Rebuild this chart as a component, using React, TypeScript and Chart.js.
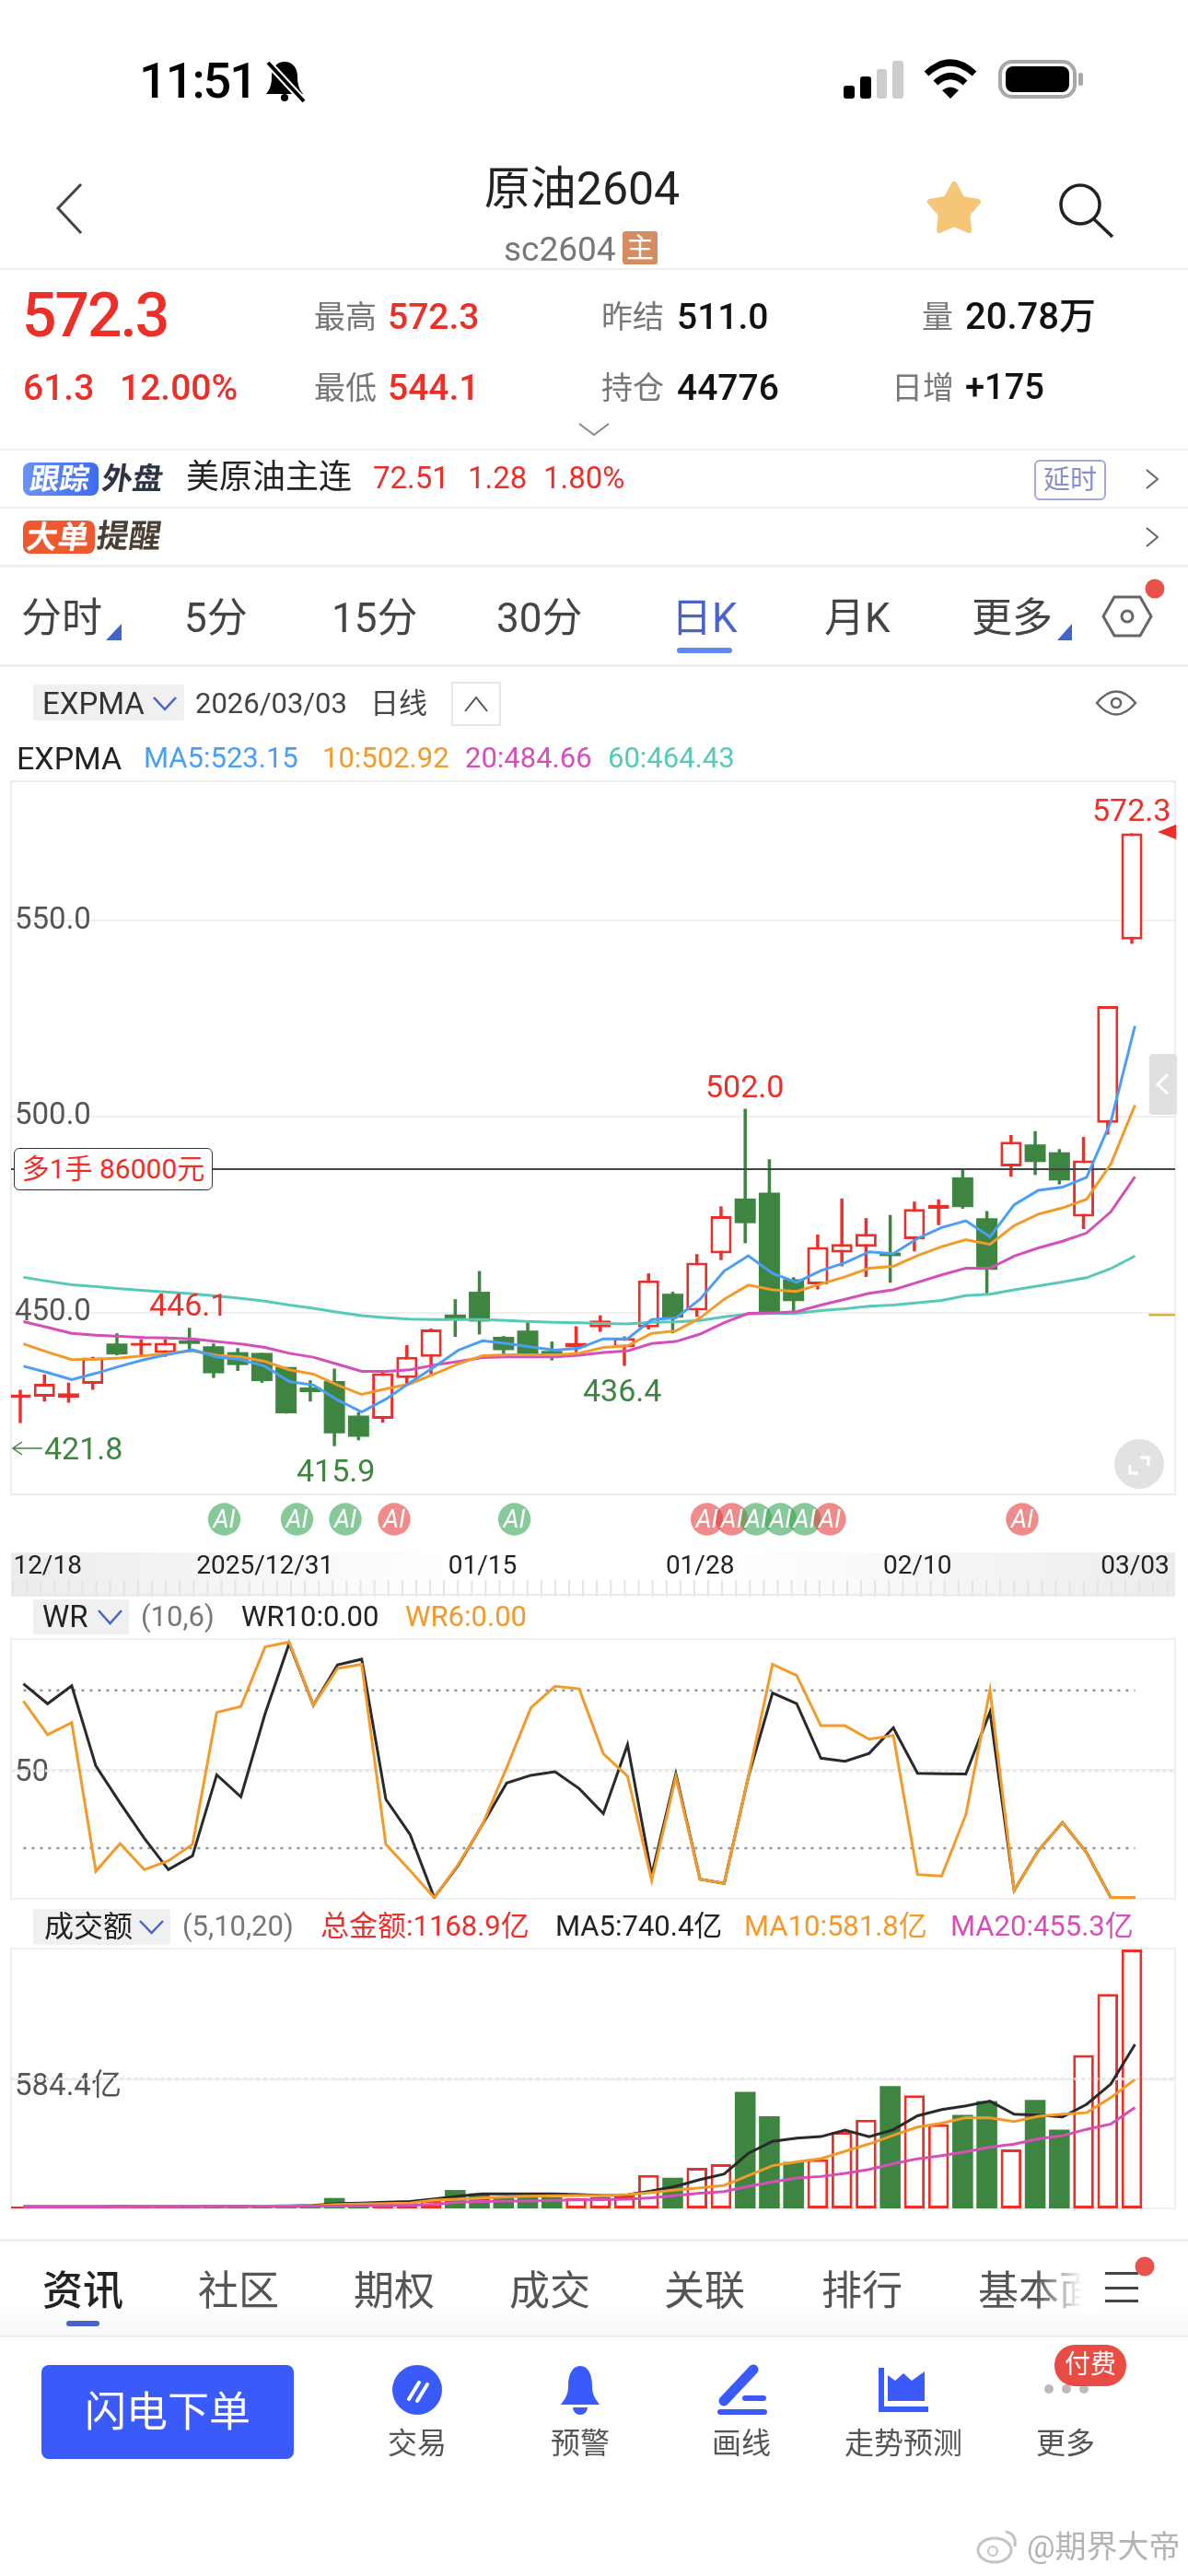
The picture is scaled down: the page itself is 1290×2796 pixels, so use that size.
import { useEffect, useRef } from 'react';
import { Chart, registerables } from 'chart.js';

Chart.register(...registerables);

// candles
const candleOpen = [428.2, 428.5, 428.2, 431.8, 442.1, 441.5, 439.7, 442.9, 441.4, 439.9, 439.7, 436.1, 430.9, 432.5, 423.7, 422.9, 433.3, 438.7, 449.5, 455.3, 443.8, 445.4, 440.2, 441.1, 446.2, 441.1, 446.2, 454.8, 450.5, 465.1, 479.1, 480.6, 458.5, 457.2, 465.3, 466.8, 465.3, 468.7, 476.5, 484.5, 474.1, 487.3, 492.9, 490.9, 474.5, 498.4, 545.2];
const candleClose = [429.1, 431.8, 429.4, 438.5, 439.3, 442.3, 442.3, 442.0, 434.5, 436.6, 432.5, 424.3, 429.7, 419.2, 418.3, 434.5, 438.7, 445.7, 448.3, 447.7, 440.4, 439.3, 439.3, 442.3, 448.0, 443.5, 458.2, 448.7, 462.7, 474.6, 472.8, 450.0, 452.9, 466.7, 467.5, 470.1, 464.4, 476.4, 477.5, 476.9, 460.9, 493.6, 488.4, 483.7, 488.8, 528.2, 572.3];
const candleHigh = [430.3, 434.2, 432.1, 438.7, 444.7, 443.2, 443.2, 446.1, 442.1, 440.9, 439.7, 436.1, 432.7, 435.7, 424.6, 434.9, 441.7, 445.9, 453.4, 460.6, 444.0, 447.7, 442.6, 446.5, 449.3, 443.9, 460.0, 455.3, 464.9, 477.1, 502.0, 489.1, 459.0, 469.9, 479.1, 474.1, 474.9, 478.3, 478.9, 486.7, 475.9, 495.3, 496.3, 491.7, 494.8, 528.2, 572.3];
const candleLow = [421.8, 427.3, 427.0, 430.3, 439.1, 439.0, 438.7, 440.5, 433.3, 435.1, 432.1, 424.2, 427.3, 415.9, 417.4, 421.9, 431.8, 434.2, 443.8, 444.4, 439.3, 438.4, 437.8, 439.9, 445.1, 436.4, 445.7, 444.7, 448.9, 463.4, 467.7, 450.0, 450.0, 455.9, 461.8, 459.1, 457.6, 465.6, 472.3, 476.5, 454.9, 484.7, 485.1, 482.7, 471.3, 495.4, 544.1];

const expma5 = [436.3, 434.7, 432.9, 434.5, 436.3, 438.0, 439.3, 440.5, 438.7, 438.0, 436.3, 432.4, 431.5, 427.7, 424.6, 427.9, 432.1, 436.1, 440.4, 442.8, 442.1, 441.2, 440.4, 440.9, 443.3, 443.3, 448.2, 448.6, 453.4, 460.6, 464.5, 460.0, 457.7, 460.7, 462.7, 465.5, 465.0, 468.9, 471.7, 473.4, 469.3, 477.5, 481.2, 482.0, 484.5, 498.7, 523.15];
const expma10 = [442.0, 439.9, 438.0, 438.1, 438.4, 439.0, 439.6, 440.2, 439.1, 438.7, 437.5, 435.4, 434.3, 431.5, 429.1, 430.5, 431.8, 434.3, 436.9, 439.0, 439.2, 439.2, 439.2, 439.6, 441.1, 441.5, 444.7, 445.3, 448.6, 453.4, 457.0, 455.8, 455.4, 457.3, 459.1, 461.3, 461.8, 464.5, 466.8, 468.6, 467.4, 472.2, 475.1, 476.7, 478.9, 487.9, 502.92];
const expma20 = [447.7, 446.2, 444.7, 444.2, 443.9, 443.6, 443.5, 443.3, 442.6, 442.0, 441.1, 439.6, 438.6, 436.8, 435.0, 435.0, 435.4, 436.6, 437.5, 438.5, 438.7, 438.7, 438.7, 439.1, 439.8, 440.2, 442.1, 442.6, 444.5, 447.4, 449.8, 449.9, 450.2, 451.9, 453.4, 454.9, 455.8, 457.7, 459.6, 461.3, 461.3, 464.4, 466.5, 468.2, 470.3, 475.7, 484.66];
const expma60 = [459.0, 458.0, 457.1, 456.6, 456.1, 455.6, 455.2, 454.8, 454.2, 453.6, 452.9, 451.9, 451.1, 450.1, 449.2, 448.7, 448.3, 448.2, 448.2, 448.2, 448.0, 447.7, 447.5, 447.4, 447.2, 447.1, 447.5, 447.6, 448.0, 448.9, 449.6, 449.8, 449.8, 450.5, 451.0, 451.6, 451.9, 452.5, 453.1, 454.3, 454.7, 455.8, 456.8, 457.8, 458.9, 461.2, 464.43];

const wr10 = [83.6, 75.8, 82.8, 51.4, 37.0, 23.2, 10.9, 16.3, 48.0, 39.4, 71.8, 99.4, 75.2, 91.0, 93.2, 38.4, 24.7, 0, 12.7, 28.6, 44.8, 47.8, 49.2, 42.6, 32.8, 59.8, 8.8, 48.4, 7.2, 5.5, 47.2, 80.0, 75.8, 54.5, 53.3, 56.4, 66.4, 48.6, 48.4, 48.3, 72.6, 2.8, 18.4, 29.4, 17.5, 0, 0];
const wr6 = [76.8, 63.7, 68.4, 10.3, 21.1, 10.9, 14.4, 20.8, 72.4, 74.7, 98.0, 99.9, 75.2, 89.6, 91.2, 20.8, 10.6, 0, 13.0, 28.6, 50.8, 74.2, 82.6, 81.6, 56.2, 47.5, 6.7, 47.2, 7.2, 5.5, 47.2, 91.2, 86.8, 67.2, 67.2, 61.9, 63.4, 9.0, 8.4, 32.4, 81.2, 2.8, 18.4, 29.4, 17.5, 0, 0];

const turnover = [8, 8, 8, 9, 12, 8, 9, 12, 8, 8, 10, 12, 15, 47, 14, 16, 30, 36, 83, 68, 50, 50, 50, 47, 51, 58, 151, 138.5, 183, 199.4, 526, 415.5, 210.5, 221.6, 345, 400, 552.6, 511, 379.5, 422, 485, 266, 490, 356, 692.5, 968, 1168.9];
const turnoverMa5 = [8, 8, 8, 8, 9, 9, 9, 9, 9, 10, 10, 11, 14, 22, 24, 28, 31, 43, 55, 65, 66, 66, 66, 62, 58, 61, 79, 100, 130, 155, 249, 303, 317, 324, 353, 324, 355, 418, 446, 463, 484, 425, 421, 413, 470, 561, 740.4];
const turnoverMa10 = [7, 7, 8, 8, 8, 9, 9, 9, 9, 9, 10, 10, 11, 18, 20, 22, 24, 37, 42, 47, 52, 55, 57, 58, 58, 62, 72, 83, 93, 104, 148, 193, 210, 225, 258, 291, 330, 367, 385, 410, 409, 392, 416, 425, 432, 500, 581.8];
const turnoverMa20 = [6, 6, 6, 6, 7, 7, 7, 7, 8, 8, 8, 8, 9, 10, 11, 12, 13, 19, 28, 31, 33, 33, 36, 38, 39, 42, 48, 58, 69, 76, 100, 120, 137, 144, 158, 176, 202, 224, 238, 256, 277, 290, 314, 328, 357, 381, 455.3];

const priceTicks = [450, 500, 550];
const positionPrice = 486.6;
const dateTickIndex = [1, 10, 19, 28, 37, 46];
const dateTickLabels = ['12/18', '2025/12/31', '01/15', '01/28', '02/10', '03/03'];
const wrTick = 50;
const wrLevels = [81, 19.3];
const turnoverTick = 584.4;

const RED = '#ec3029';
const GREEN = '#3d8540';
const BLUE = '#4a9ff5';
const ORANGE = '#f39a2b';
const MAGENTA = '#d64fb9';
const TEAL = '#56c9b8';
const DARK = '#2a2a2a';
const FONT = 'Roboto, "Noto Sans CJK SC", sans-serif';

// slot geometry shared by the three panels
const X_MIN = -0.381;
const X_MAX = 47.79;
const LINE_SHIFT = 0.13; // the app draws its averages a little right of the bar centre

const isUp = candleClose.map((c, i) => c >= candleOpen[i]);

const framePlugin = {
  id: 'frame',
  beforeDatasetsDraw(chart: any) {
    const { ctx, chartArea: a } = chart;
    ctx.save();
    ctx.strokeStyle = '#eeeeee';
    ctx.lineWidth = 2;
    ctx.strokeRect(a.left, a.top, a.right - a.left, a.bottom - a.top);
    ctx.restore();
  },
};

const lineSet = (values: number[], color: string, order: number) => ({
  type: 'line' as const,
  data: values.map((y, i) => ({ x: i + LINE_SHIFT, y })),
  borderColor: color,
  borderWidth: 3,
  pointRadius: 0,
  tension: 0,
  order,
});

const levelSet = (y: number, from: number, to: number, color: string, dash: number[], width: number, order: number) => ({
  type: 'line' as const,
  data: [{ x: from, y }, { x: to, y }],
  borderColor: color,
  borderWidth: width,
  borderDash: dash,
  pointRadius: 0,
  order,
});

function panelOptions(yMin: number, yMax: number, ticks: number[], format: (v: number) => string, labelOffset: number, xAxis: any) {
  return {
    responsive: false,
    animation: false as const,
    events: [],
    layout: { padding: { left: 2, right: 2, top: 2, bottom: xAxis.display ? 0 : 2 } },
    plugins: { legend: { display: false }, tooltip: { enabled: false } },
    scales: {
      x: xAxis,
      y: {
        type: 'linear' as const,
        min: yMin,
        max: yMax,
        border: { display: false },
        grid: { color: '#f0f0f0', lineWidth: 2, drawTicks: false },
        afterBuildTicks(scale: any) {
          scale.ticks = ticks.map((value) => ({ value }));
        },
        afterFit(scale: any) {
          scale.width = 0;
          scale.paddingTop = 0;
          scale.paddingBottom = 0;
        },
        ticks: {
          mirror: true,
          padding: 4,
          labelOffset,
          color: '#555555',
          font: { family: FONT, size: 33 },
          callback: (v: any) => format(Number(v)),
        },
      },
    },
  };
}

const hiddenX = { type: 'linear' as const, display: false, min: X_MIN, max: X_MAX, offset: false };

function priceConfig(): any {
  const xAxis = {
    type: 'linear' as const,
    display: true,
    min: X_MIN,
    max: X_MAX,
    offset: false,
    border: { display: false },
    grid: { display: false, offset: false, drawTicks: false },
    afterBuildTicks(scale: any) {
      scale.ticks = dateTickIndex.map((i) => ({ value: i + LINE_SHIFT }));
    },
    afterFit(scale: any) {
      scale.height = 95;
      scale.paddingLeft = 0;
      scale.paddingRight = 0;
    },
    ticks: {
      autoSkip: false,
      maxRotation: 0,
      padding: 62,
      color: '#222222',
      font: { family: FONT, size: 28 },
      callback: (_v: any, i: number) => dateTickLabels[i],
    },
  };
  return {
    type: 'bar',
    data: {
      datasets: [
        lineSet(expma5, BLUE, 0),
        lineSet(expma10, ORANGE, 1),
        lineSet(expma20, MAGENTA, 2),
        lineSet(expma60, TEAL, 3),
        levelSet(positionPrice, X_MIN, X_MAX, '#444444', [], 2, 4),
        levelSet(449.4, 46.7, X_MAX, '#d4b04a', [], 2.5, 4),
        {
          data: candleOpen.map((o, i) => ({ x: i, y: [o, candleClose[i]] })),
          grouped: false,
          categoryPercentage: 1,
          barPercentage: 0.876,
          backgroundColor: isUp.map((u) => (u ? '#ffffff' : GREEN)),
          borderColor: isUp.map((u) => (u ? RED : GREEN)),
          borderWidth: isUp.map((u) => (u ? 3 : 0)),
          borderSkipped: false,
          inflateAmount: 0,
          order: 5,
        },
        {
          data: candleLow.map((l, i) => ({ x: i, y: [l, candleHigh[i]] })),
          grouped: false,
          categoryPercentage: 1,
          barPercentage: 1,
          maxBarThickness: 3.5,
          backgroundColor: isUp.map((u) => (u ? RED : GREEN)),
          borderWidth: 0,
          inflateAmount: 0,
          order: 6,
        },
      ],
    },
    options: panelOptions(403.6, 585.57, priceTicks, (v) => v.toFixed(1), 0, xAxis),
    plugins: [framePlugin],
  };
}

function wrConfig(): any {
  return {
    type: 'bar',
    data: {
      datasets: [
        lineSet(wr6, ORANGE, 0),
        lineSet(wr10, DARK, 1),
        levelSet(wrLevels[0], LINE_SHIFT, 46 + LINE_SHIFT, '#8c93ad', [3, 6], 2.5, 2),
        levelSet(wrTick - 0.4, X_MIN, X_MAX, '#e8e8e8', [4, 3.4], 3, 2),
        levelSet(wrLevels[1], LINE_SHIFT, 46 + LINE_SHIFT, '#8c93ad', [3, 6], 2.5, 2),
      ],
    },
    options: panelOptions(-0.5, 101.1, [wrTick], (v) => String(v), 4, hiddenX),
    plugins: [framePlugin],
  };
}

function turnoverConfig(): any {
  return {
    type: 'bar',
    data: {
      datasets: [
        lineSet(turnoverMa20, MAGENTA, 0),
        lineSet(turnoverMa10, ORANGE, 1),
        lineSet(turnoverMa5, DARK, 2),
        levelSet(turnoverTick, X_MIN, X_MAX, '#e8e8e8', [4, 3.4], 3, 3),
        {
          data: turnover.map((y, i) => ({ x: i, y })),
          grouped: false,
          categoryPercentage: 1,
          barPercentage: 0.86,
          backgroundColor: isUp.map((u) => (u ? '#ffffff' : GREEN)),
          borderColor: isUp.map((u) => (u ? RED : GREEN)),
          borderWidth: isUp.map((u) => (u ? 3 : 0)),
          borderSkipped: false,
          inflateAmount: 0,
          order: 4,
        },
      ],
    },
    options: panelOptions(0, 1173, [turnoverTick], (v) => `${v.toFixed(1)}亿`, 9, hiddenX),
    plugins: [framePlugin],
  };
}

function ChartCanvas({ config, left, top, width, height }: { config: () => any; left: number; top: number; width: number; height: number }) {
  const ref = useRef<HTMLCanvasElement | null>(null);
  useEffect(() => {
    if (!ref.current) return;
    const chart = new Chart(ref.current, config());
    return () => chart.destroy();
  }, [config]);
  return <canvas ref={ref} width={width} height={height} style={{ position: 'absolute', left, top, width, height }} />;
}

function T({ x, y, s, c = '#222', w = 400, center, style, children }: any) {
  return (
    <div
      style={{
        position: 'absolute',
        left: x,
        top: y - s * 0.6,
        fontSize: s,
        lineHeight: `${s * 1.2}px`,
        color: c,
        fontWeight: w,
        whiteSpace: 'nowrap',
        transform: center ? 'translateX(-50%)' : undefined,
        ...style,
      }}
    >
      {children}
    </div>
  );
}

function Box({ x, y, w, h, bg, r = 0, style }: any) {
  return <div style={{ position: 'absolute', left: x, top: y, width: w, height: h, background: bg, borderRadius: r, ...style }} />;
}

const aiBadges = [
  [243.5, 'g'], [322.5, 'g'], [375, 'g'], [428, 'r'], [558.6, 'g'], [767.6, 'r'], [794.7, 'r'], [821, 'g'], [847.4, 'g'], [873.7, 'g'], [901, 'r'], [1110, 'r'],
] as [number, string][];

const SLANT = { display: 'inline-block', transform: 'skewX(-8deg)' };

function Overlay() {
  const ruler = Array.from({ length: 84 }, (_, i) => 13 + i * 15.1);
  return (
    <svg width={1290} height={2796} style={{ position: 'absolute', left: 0, top: 0 }} fill="none">
      {/* status bar */}
      <path d="M309 67c-9 0-14 7-14 16 0 9-2 14-6 19h40c-4-5-6-10-6-19 0-9-5-16-14-16z" fill="#000" />
      <circle cx={309} cy={106} r={4} fill="#000" />
      <path d="M291 68l39 42" stroke="#fff" strokeWidth={8} />
      <path d="M291 68l39 42" stroke="#000" strokeWidth={4} />
      <rect x={916} y={93} width={12} height={14} rx={3} fill="#000" />
      <rect x={934} y={83} width={12} height={24} rx={3} fill="#000" />
      <rect x={952} y={75} width={11} height={32} rx={3} fill="#ccc" />
      <rect x={969} y={66} width={12} height={41} rx={3} fill="#ccc" />
      <path d="M1006 80Q1032 56 1058 80" stroke="#000" strokeWidth={7} />
      <path d="M1016 90Q1032 75 1048 90" stroke="#000" strokeWidth={7} />
      <path d="M1032 107L1023 98Q1032 91 1041 98Z" fill="#000" />
      <rect x={1086} y={67} width={81} height={38} rx={13} stroke="#a8a8a8" strokeWidth={4} />
      <rect x={1092} y={72} width={69} height={28} rx={8} fill="#000" />
      <rect x={1171} y={79} width={5} height={14} rx={2} fill="#a8a8a8" />
      {/* header */}
      <path d="M88 200L63 226L88 253" stroke="#444" strokeWidth={3} />
      <polygon
        points="1036,200 1044.8,215.9 1062,219 1050.3,232.6 1052,250 1036,243 1020,250 1021.7,232.6 1010,219 1027.2,215.9"
        fill="#f5c678"
        stroke="#f5c678"
        strokeWidth={6}
        strokeLinejoin="round"
      />
      <circle cx={1173} cy={222} r={21} stroke="#222" strokeWidth={3.5} />
      <path d="M1188 238L1208 257" stroke="#222" strokeWidth={3.5} />
      <path d="M629 460L645 472L661 460" stroke="#888" strokeWidth={2} />
      <path d="M1245 510L1257 520L1245 530M1245 573L1257 583L1245 593" stroke="#666" strokeWidth={2} />
      <polygon points="132,677 132,695 115,695" fill="#4464c8" />
      <polygon points="1164,677 1164,695 1148,695" fill="#4464c8" />
      <polygon points="1210,648 1238,648 1250,669 1238,690 1210,690 1198,669" stroke="#666" strokeWidth={3} />
      <circle cx={1224} cy={669} r={6} stroke="#666" strokeWidth={3} />
      <circle cx={1254} cy={639} r={10.5} fill="#e8524a" />
      <rect x={735} y={703} width={60} height={6} rx={3} fill="#6088f0" />
      <path d="M167 757L179 770L191 757" stroke="#4a63c8" strokeWidth={2.5} />
      <rect x={491} y={741} width={52} height={46} stroke="#ddd" strokeWidth={1.5} fill="#fff" />
      <path d="M505 772L517 757L529 772" stroke="#555" strokeWidth={2} />
      <path d="M1191 763Q1212 738 1233 763Q1212 788 1191 763Z" stroke="#666" strokeWidth={2.5} />
      <circle cx={1212} cy={763} r={5} stroke="#666" strokeWidth={2.5} />
      {/* price panel extras */}
      <polygon points="1257,903 1277,895 1277,911" fill={RED} />
      <rect x={1248} y={1144} width={30} height={66} rx={4} fill="#e0e0e0" />
      <path d="M1268 1166L1257 1177L1268 1187" stroke="#fff" strokeWidth={3} />
      <circle cx={1237} cy={1589} r={27} fill="#e2e2e2" />
      <path d="M1238 1582H1247V1591M1227 1590V1599H1236" stroke="#fff" strokeWidth={3} />
      <path d="M14 1572H46M24 1565L14 1572L24 1579" stroke={GREEN} strokeWidth={1.5} />
      {aiBadges.map(([x, k], i) => (
        <circle key={i} cx={x} cy={1649} r={17.7} fill={k === 'g' ? '#37a553' : '#e53e3e'} fillOpacity={0.6} />
      ))}
      {/* time strip ruler */}
      {ruler.map((x) => (
        <rect key={x} x={x} y={1715} width={2} height={18} fill="#e4e4e4" />
      ))}
      <rect x={12} y={1730} width={1264} height={2} fill="#eaeaea" />
      <path d="M107 1748L119.5 1762L132 1748" stroke="#4a63c8" strokeWidth={2.5} />
      <path d="M152 2085L164.5 2098L177 2085" stroke="#4a63c8" strokeWidth={2.5} />
      {/* bottom bar */}
      <rect x={1200} y={2466} width={36} height={3} fill="#444" />
      <rect x={1200} y={2482} width={36} height={3} fill="#444" />
      <rect x={1200} y={2496} width={36} height={3} fill="#444" />
      <circle cx={1243} cy={2460} r={10.5} fill="#e8524a" />
      <rect x={72} y={2519} width={36} height={6} rx={3} fill="#4a63c8" />
      <circle cx={453} cy={2594} r={27} fill="#3a5bfa" />
      <path d="M444 2604L455 2586M453 2606L464 2588" stroke="#fff" strokeWidth={4} strokeLinecap="round" />
      <path d="M630 2568c-9 0-13 10-13 22 0 10-4 14-8 20h42c-4-6-8-10-8-20 0-12-4-22-13-22z" fill="#3a5bfa" />
      <path d="M622 2613a8 8 0 0 0 16 0z" fill="#3a5bfa" />
      <path d="M818 2572L786 2606" stroke="#3a5bfa" strokeWidth={11} strokeLinecap="round" />
      <rect x={779} y={2615} width={54} height={6} rx={3} fill="#3a5bfa" />
      <rect x={806} y={2600} width={26} height={6} rx={3} fill="#3a5bfa" />
      <rect x={954} y={2570} width={6} height={48} fill="#3a5bfa" />
      <rect x={954} y={2612} width={54} height={6} fill="#3a5bfa" />
      <polygon points="964,2606 964,2578 972,2584 981,2576 990,2584 1004,2574 1004,2606" fill="#3a5bfa" />
      <circle cx={1139} cy={2593} r={5} fill="#bbb" />
      <circle cx={1158} cy={2593} r={5} fill="#bbb" />
      <circle cx={1177} cy={2593} r={5} fill="#bbb" />
      <rect x={1145} y={2545} width={78} height={45} rx={22} fill="#e84c42" />
      {/* watermark */}
      <ellipse cx={1080} cy={2768} rx={18} ry={13} stroke="#c4c4c4" strokeWidth={3} />
      <circle cx={1078} cy={2769} r={5} stroke="#c4c4c4" strokeWidth={2} />
      <path d="M1092 2748Q1104 2750 1102 2764" stroke="#c4c4c4" strokeWidth={3} />
    </svg>
  );
}

export default function App() {
  return (
    <div style={{ position: 'absolute', left: 0, top: 0, width: 1290, height: 2796, background: '#fff', overflow: 'hidden', fontFamily: FONT }}>
      {/* dividers and strips under the charts */}
      <Box x={0} y={291} w={1290} h={2} bg="#eee" />
      <Box x={0} y={487} w={1290} h={2} bg="#f0f0f0" />
      <Box x={0} y={550} w={1290} h={2} bg="#f0f0f0" />
      <Box x={0} y={613} w={1290} h={3} bg="#eee" />
      <Box x={0} y={721} w={1290} h={3} bg="#eee" />
      <Box x={36} y={743} w={164} h={39} r={3} bg="#f0f0f0" />
      <Box x={36} y={1736} w={104} h={38} r={3} bg="#f0f0f0" />
      <Box x={36} y={2072} w={149} h={39} r={3} bg="#f0f0f0" />
      <Box x={12} y={1685} w={1264} h={48} bg="linear-gradient(to right,#ececec 0%,#f7f7f7 22%,#fff 38%,#fff 62%,#f7f7f7 78%,#ececec 100%)" />
      <Box x={0} y={2500} w={1290} h={34} bg="linear-gradient(to bottom,#fff,#f8f8f8)" />
      <Box x={0} y={2430} w={1290} h={3} bg="#eee" />
      <Box x={0} y={2534} w={1290} h={3} bg="#eee" />

      <ChartCanvas config={priceConfig} left={10} top={846} width={1268} height={871} />
      <ChartCanvas config={wrConfig} left={10} top={1777} width={1268} height={286} />
      <ChartCanvas config={turnoverConfig} left={10} top={2113} width={1268} height={286} />

      <Overlay />

      {/* status bar and header */}
      <T x={151} y={88} s={54} c="#000" w={500} style={{ letterSpacing: -2 }}>11:51</T>
      <T x={632} y={205} s={50} center>原油2604</T>
      <T x={547} y={271} s={37} c="#777">sc2604</T>
      <Box x={676} y={251} w={38} h={36} r={3} bg="#d48c63" />
      <T x={695} y={269} s={30} c="#fff" center>主</T>

      <T x={24} y={343} s={66} c={RED} w={500} style={{ letterSpacing: -2 }}>572.3</T>
      <T x={341} y={344} s={34} c="#777">最高</T>
      <T x={421} y={344} s={39} c={RED} w={500}>572.3</T>
      <T x={653} y={344} s={34} c="#777">昨结</T>
      <T x={735} y={344} s={39} c="#111" w={500}>511.0</T>
      <T x={1001} y={344} s={34} c="#777">量</T>
      <T x={1048} y={344} s={40} c="#111" w={500}>20.78万</T>
      <T x={25} y={421} s={39} c={RED} w={500}>61.3</T>
      <T x={130} y={421} s={39} c={RED} w={500}>12.00%</T>
      <T x={341} y={421} s={34} c="#777">最低</T>
      <T x={421} y={421} s={39} c={RED} w={500}>544.1</T>
      <T x={653} y={421} s={34} c="#777">持仓</T>
      <T x={735} y={421} s={39} c="#111" w={500}>44776</T>
      <T x={968} y={421} s={34} c="#777">日增</T>
      <T x={1048} y={421} s={38} c="#111" w={500}>+175</T>

      {/* follow rows */}
      <Box x={25} y={502} w={82} h={36} r={8} bg="linear-gradient(to right,#6a92f8,#3e6cf0)" />
      <T x={33} y={520} s={32} c="#fff" w={700}><span style={SLANT}>跟踪</span></T>
      <T x={111} y={520} s={33} c="#2c3446" w={700}><span style={SLANT}>外盘</span></T>
      <T x={202} y={519} s={36}>美原油主连</T>
      <T x={405} y={519} s={33} c={RED}>72.51</T>
      <T x={508} y={519} s={33} c={RED}>1.28</T>
      <T x={590} y={519} s={33} c={RED}>1.80%</T>
      <div style={{ position: 'absolute', left: 1123, top: 499, width: 74, height: 40, border: '2px solid #a5a9dc', borderRadius: 6, color: '#8890cc', fontSize: 29, lineHeight: '40px', textAlign: 'center' }}>延时</div>
      <Box x={25} y={565} w={78} h={36} r={8} bg="#ee5a30" />
      <T x={29} y={583} s={34} c="#fff" w={700}><span style={SLANT}>大单</span></T>
      <T x={105} y={583} s={35} c="#4a3f35" w={700}><span style={SLANT}>提醒</span></T>

      {/* period tabs */}
      <T x={23} y={671} s={44} c="#444">分时</T>
      <T x={200} y={671} s={44} c="#444">5分</T>
      <T x={360} y={671} s={44} c="#444">15分</T>
      <T x={539} y={671} s={44} c="#444">30分</T>
      <T x={729} y={671} s={44} c="#4a63c8">日K</T>
      <T x={895} y={671} s={44} c="#444">月K</T>
      <T x={1055} y={671} s={44} c="#444">更多</T>

      {/* indicator heads */}
      <T x={46} y={764} s={33} c="#333">EXPMA</T>
      <T x={212} y={764} s={31} c="#444">2026/03/03</T>
      <T x={402} y={764} s={31} c="#444">日线</T>
      <T x={18} y={823} s={34}>EXPMA</T>
      <T x={156} y={823} s={31} c={BLUE}>MA5:523.15</T>
      <T x={350} y={823} s={31} c={ORANGE}>10:502.92</T>
      <T x={505} y={823} s={31} c={MAGENTA}>20:484.66</T>
      <T x={660} y={823} s={31} c={TEAL}>60:464.43</T>

      {/* price labels */}
      <T x={1186} y={879} s={34} c={RED}>572.3</T>
      <T x={766} y={1179} s={34} c={RED}>502.0</T>
      <T x={162} y={1416} s={34} c={RED}>446.1</T>
      <T x={633} y={1509} s={34} c={GREEN}>436.4</T>
      <T x={48} y={1572} s={34} c={GREEN}>421.8</T>
      <T x={322} y={1596} s={34} c={GREEN}>415.9</T>
      <div style={{ position: 'absolute', left: 15, top: 1246, width: 214, height: 44, background: '#fff', border: '1.5px solid #333', borderRadius: 6, color: RED, fontSize: 30, lineHeight: '44px', textAlign: 'center', whiteSpace: 'nowrap' }}>多1手 86000元</div>
      {aiBadges.map(([x], i) => (
        <T key={i} x={x} y={1649} s={27} c="#fff" center style={{ fontStyle: 'italic' }}>AI</T>
      ))}

      {/* WR head */}
      <T x={46} y={1755} s={33}>WR</T>
      <T x={153} y={1755} s={31} c="#777">(10,6)</T>
      <T x={262} y={1755} s={31}>WR10:0.00</T>
      <T x={440} y={1755} s={31} c={ORANGE}>WR6:0.00</T>

      {/* turnover head */}
      <T x={48} y={2091} s={32}>成交额</T>
      <T x={198} y={2091} s={31} c="#777">(5,10,20)</T>
      <T x={348} y={2091} s={31} c={RED}>总金额:1168.9亿</T>
      <T x={603} y={2091} s={31}>MA5:740.4亿</T>
      <T x={808} y={2091} s={31} c={ORANGE}>MA10:581.8亿</T>
      <T x={1032} y={2091} s={31} c={MAGENTA}>MA20:455.3亿</T>

      {/* bottom tabs */}
      <T x={46} y={2487} s={44} c="#222" w={500}>资讯</T>
      <T x={215} y={2487} s={44} c="#555">社区</T>
      <T x={384} y={2487} s={44} c="#555">期权</T>
      <T x={553} y={2487} s={44} c="#555">成交</T>
      <T x={721} y={2487} s={44} c="#555">关联</T>
      <T x={892} y={2487} s={44} c="#555">排行</T>
      <T x={1062} y={2487} s={44} c="#555">基本面</T>
      <Box x={1125} y={2455} w={50} h={55} bg="linear-gradient(to right,rgba(255,255,255,0),#fff)" />
      <Box x={1175} y={2455} w={22} h={55} bg="#fff" />

      <Box x={45} y={2567} w={274} h={102} r={8} bg="#3a5bfa" />
      <T x={182} y={2619} s={45} c="#fff" center>闪电下单</T>
      <T x={453} y={2652} s={32} c="#555" center>交易</T>
      <T x={630} y={2652} s={32} c="#555" center>预警</T>
      <T x={805} y={2652} s={32} c="#555" center>画线</T>
      <T x={981} y={2652} s={32} c="#555" center>走势预测</T>
      <T x={1157} y={2652} s={32} c="#555" center>更多</T>
      <T x={1184} y={2567} s={28} c="#fff" center>付费</T>
      <T x={1115} y={2764} s={34} c="#b4b4b4" style={{ textShadow: '0 0 3px #fff' }}>@期界大帝</T>
    </div>
  );
}
